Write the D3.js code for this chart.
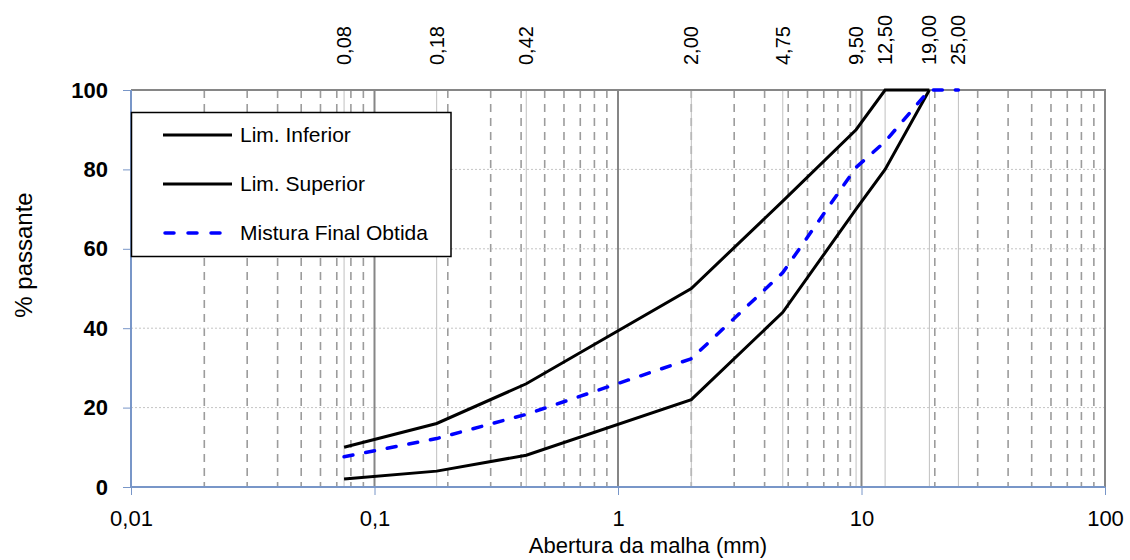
<!DOCTYPE html>
<html>
<head>
<meta charset="utf-8">
<script src="https://cdn.jsdelivr.net/npm/d3@7"></script>
<style>
  html, body { margin: 0; padding: 0; background: #fff; }
  svg { display: block; font-family: "Liberation Sans", Arial, sans-serif; }
</style>
</head>
<body>
<svg id="chart" width="1130" height="560"></svg>
<script>
// ---- data ----
const sieves = [0.075, 0.18, 0.42, 2.0, 4.75, 9.5, 12.5, 19.0, 25.0];
const sieveLabels = ["0,08", "0,18", "0,42", "2,00", "4,75", "9,50", "12,50", "19,00", "25,00"];
const limInferior = [2, 4, 8, 22, 44, 70, 80, 100];
const limSuperior = [10, 16, 26, 50, 72, 90, 100, 100];
const mistura = [7.6, 12.2, 18.3, 32.3, 54, 80.5, 87, 100, 100];
const xTicks = [0.01, 0.1, 1, 10, 100];
const xTickLabels = ["0,01", "0,1", "1", "10", "100"];
const yTicks = [0, 20, 40, 60, 80, 100];
const seriesNames = ["Lim. Inferior", "Lim. Superior", "Mistura Final Obtida"];

// ---- layout ----
const svg = d3.select("#chart");
const L = 131, R = 1105, T = 90, B = 487;
const x = d3.scaleLog().domain([0.01, 100]).range([L, R]);
const y = d3.scaleLinear().domain([0, 100]).range([B, T]);

// minor dashed verticals
const minors = [];
for (let k = -2; k <= 1; k++) for (let m = 2; m <= 9; m++) minors.push(m * Math.pow(10, k));
svg.append("g").selectAll("line").data(minors).join("line")
  .attr("x1", d => x(d)).attr("x2", d => x(d)).attr("y1", T).attr("y2", B)
  .attr("stroke", "#9c9c9c").attr("stroke-width", 1.6).attr("stroke-dasharray", "8,6");

// horizontal dotted grid
svg.append("g").selectAll("line").data([20, 40, 60, 80]).join("line")
  .attr("x1", L).attr("x2", R).attr("y1", d => y(d)).attr("y2", d => y(d))
  .attr("stroke", "#c4c4c4").attr("stroke-width", 1).attr("stroke-dasharray", "2,2");

// sieve verticals
svg.append("g").selectAll("line").data(sieves).join("line")
  .attr("x1", d => x(d)).attr("x2", d => x(d)).attr("y1", T).attr("y2", B)
  .attr("stroke", "#c0c0c0").attr("stroke-width", 1);

// major verticals
svg.append("g").selectAll("line").data([0.1, 1, 10]).join("line")
  .attr("x1", d => x(d)).attr("x2", d => x(d)).attr("y1", T).attr("y2", B)
  .attr("stroke", "#868686").attr("stroke-width", 2);

// top & right border
svg.append("path")
  .attr("d", `M${L},${T}H${R}V${B}`)
  .attr("fill", "none").attr("stroke", "#868686").attr("stroke-width", 2);

// series
const line = d3.line().x(d => x(d[0])).y(d => y(d[1]));
const infPts = limInferior.map((v, i) => [sieves[i], v]);
const supPts = limSuperior.map((v, i) => [sieves[i], v]);
const misPts = mistura.map((v, i) => [sieves[i], v]);
svg.append("path").datum(infPts).attr("d", line)
  .attr("fill", "none").attr("stroke", "#000").attr("stroke-width", 3);
svg.append("path").datum(supPts).attr("d", line)
  .attr("fill", "none").attr("stroke", "#000").attr("stroke-width", 3);
svg.append("path").datum(misPts).attr("d", line)
  .attr("fill", "none").attr("stroke", "#0000ff").attr("stroke-width", 3.5)
  .attr("stroke-dasharray", "9,13").attr("stroke-linecap", "round");

// axes (left & bottom)
const axisColor = "#7896c8";
const yAxis = svg.append("g").attr("transform", `translate(${L},0)`)
  .call(d3.axisLeft(y).tickValues(yTicks).tickSize(8).tickFormat(d3.format("d")));
yAxis.select(".domain").attr("stroke", axisColor).attr("stroke-width", 2).attr("d", `M0,${T}V${B}`);
yAxis.selectAll(".tick line").attr("stroke", axisColor).attr("stroke-width", 1);
yAxis.selectAll(".tick text").attr("x", -23).attr("font-size", 22).attr("font-weight", "bold")
  .attr("fill", "#000").attr("font-family", "'Liberation Sans', Arial, sans-serif");

const xAxis = svg.append("g").attr("transform", `translate(0,${B})`)
  .call(d3.axisBottom(x).tickValues(xTicks).tickSize(8).tickFormat((d, i) => xTickLabels[i]));
xAxis.select(".domain").attr("stroke", axisColor).attr("stroke-width", 2).attr("d", `M${L},0H${R}`);
xAxis.selectAll(".tick line").attr("stroke", axisColor).attr("stroke-width", 1);
xAxis.selectAll(".tick text").attr("y", 0).attr("dy", "1.75em").attr("font-size", 22)
  .attr("fill", "#000").attr("font-family", "'Liberation Sans', Arial, sans-serif");

// top sieve labels
svg.append("g").selectAll("text").data(sieves).join("text")
  .attr("transform", d => `translate(${x(d)},65) rotate(-90)`)
  .attr("dy", "0.35em").attr("text-anchor", "start")
  .attr("font-size", 20).attr("fill", "#000")
  .text((d, i) => sieveLabels[i]);

// axis titles
svg.append("text").attr("x", 648).attr("y", 553).attr("text-anchor", "middle")
  .attr("font-size", 22).attr("fill", "#000").text("Abertura da malha (mm)");
svg.append("text").attr("transform", "translate(32,255) rotate(-90)")
  .attr("text-anchor", "middle").attr("font-size", 24).attr("fill", "#000").text("% passante");

// legend
const lg = svg.append("g");
lg.append("rect").attr("x", 131.5).attr("y", 112.5).attr("width", 319.5).attr("height", 144)
  .attr("fill", "#fff").attr("stroke", "#000").attr("stroke-width", 1.5);
const rowsY = [135, 184, 233];
seriesNames.forEach((name, i) => {
  const ln = lg.append("line").attr("x1", 163).attr("x2", i === 2 ? 222 : 232)
    .attr("y1", rowsY[i]).attr("y2", rowsY[i]);
  if (i < 2) ln.attr("stroke", "#000").attr("stroke-width", 3);
  else ln.attr("stroke", "#0000ff").attr("stroke-width", 3.5).attr("stroke-dasharray", "9,14").attr("stroke-linecap", "round")
    .attr("x1", 165);
  lg.append("text").attr("x", 240).attr("y", rowsY[i]).attr("dy", "0.35em")
    .attr("font-size", 21).attr("fill", "#000").text(name);
});
</script>
</body>
</html>
